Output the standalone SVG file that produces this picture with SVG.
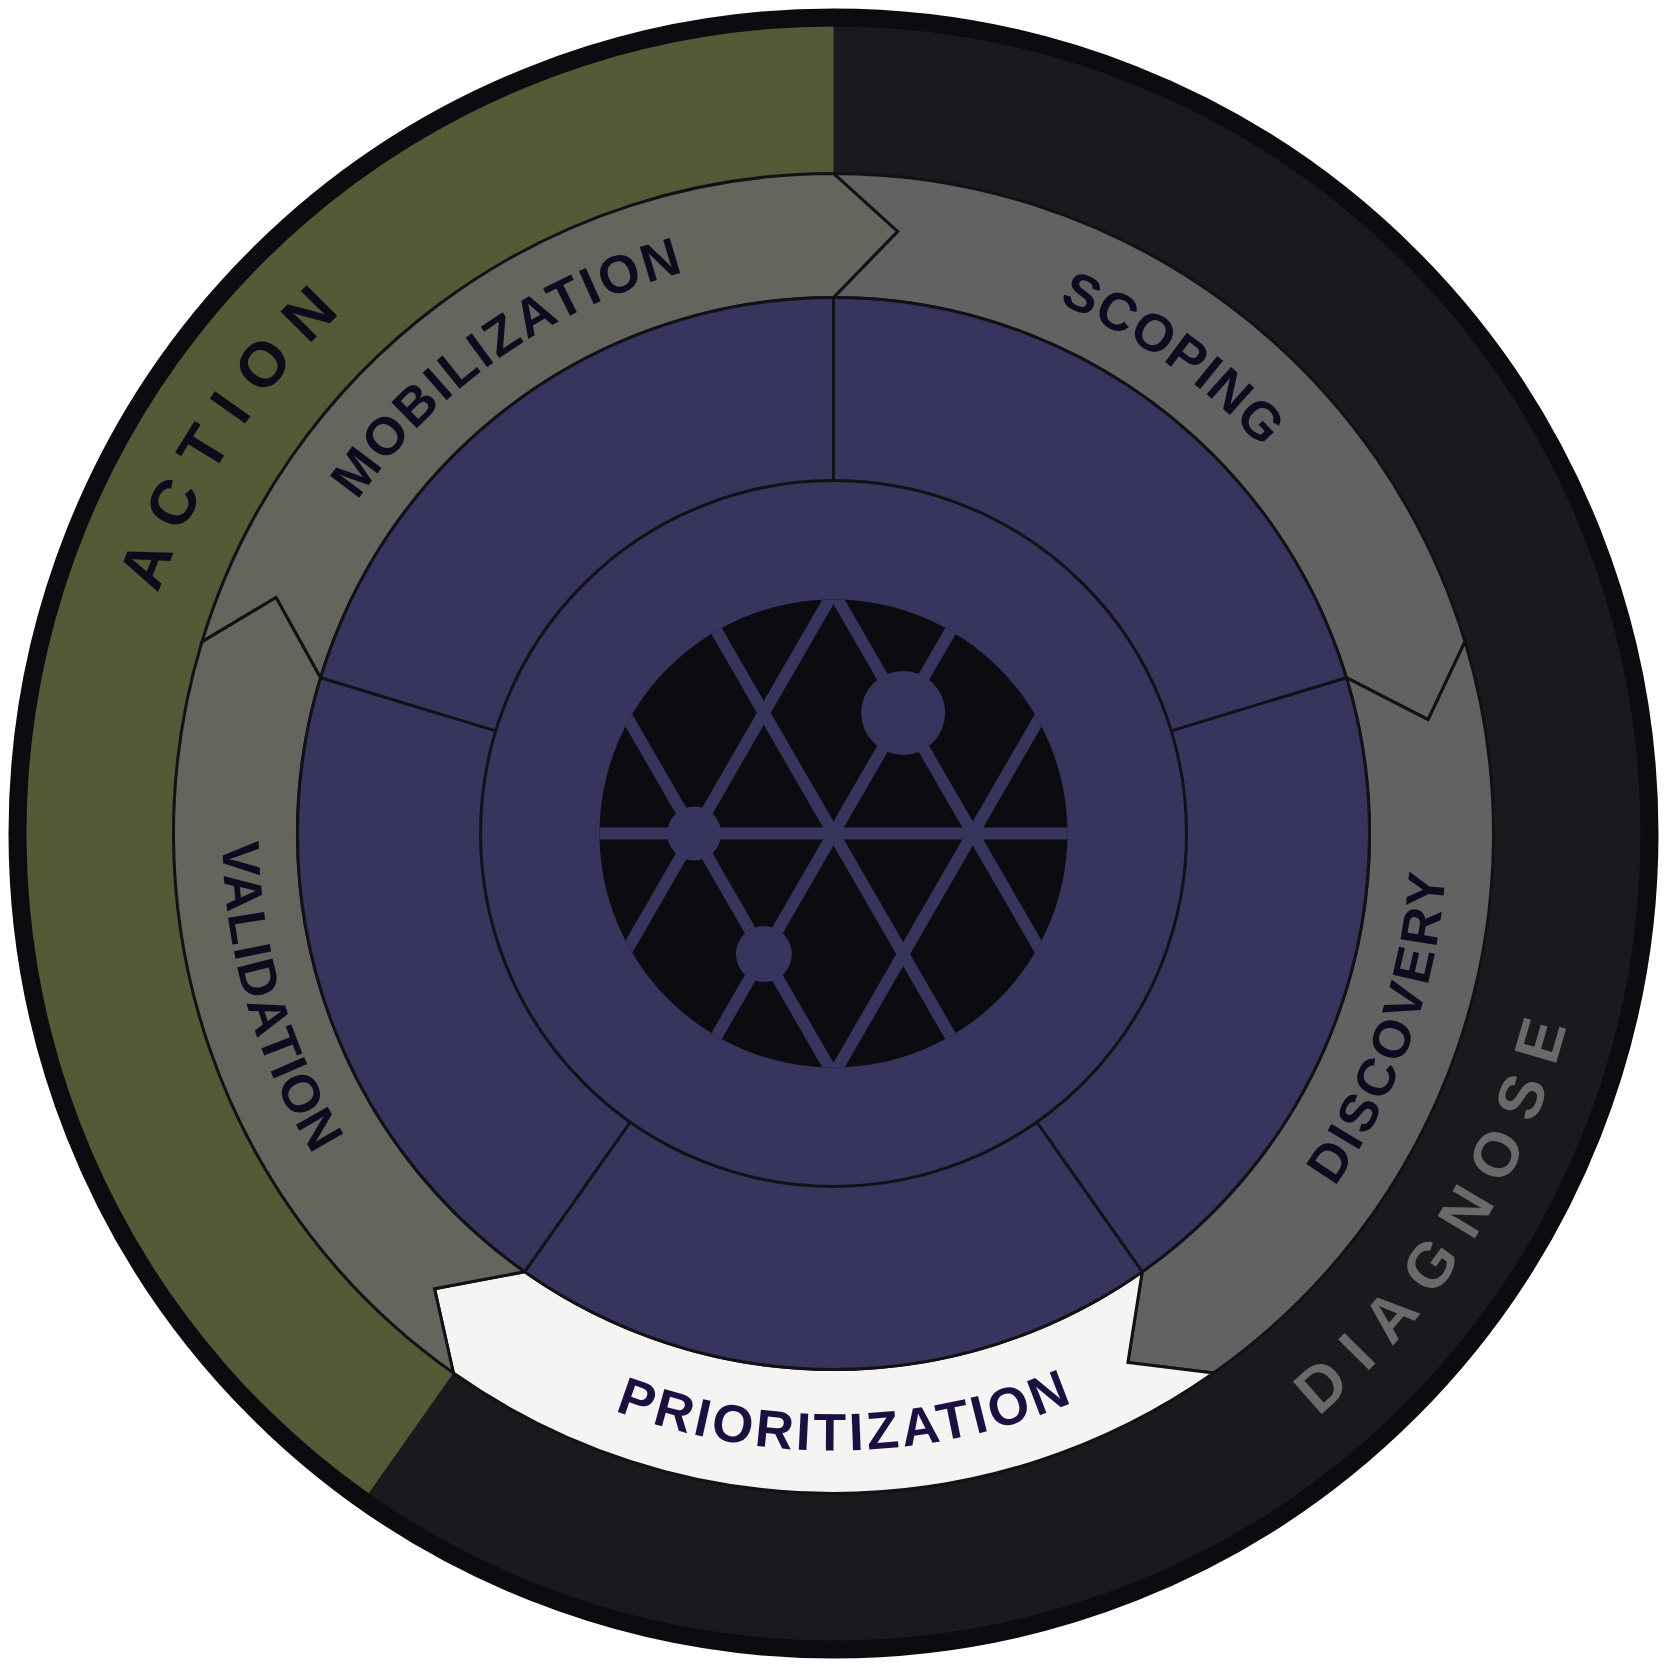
<svg xmlns="http://www.w3.org/2000/svg" width="1667" height="1667" viewBox="0 0 1667 1667">
<defs>
<style>
.seg{stroke:#111116;stroke-width:3;stroke-linejoin:miter}
.warm{fill:#65655e}
.cool{fill:#626262}
.light{fill:#f5f4f2}
.lbl{font-family:"Liberation Sans",Arial,sans-serif;font-weight:700;font-size:53px;fill:#0f0b1f}
.big{font-family:"Liberation Sans",Arial,sans-serif;font-weight:700;font-size:63px}
.lattice line{stroke:#37345e;stroke-width:12}
.div{stroke:#111116;stroke-width:3;fill:none}
</style>
<clipPath id="disc"><circle cx="833.5" cy="833.5" r="234"/></clipPath>
<path id="p-action" d="M 343.9 1357.3 A 717 717 0 0 1 1114.2 173.7"/>
<path id="p-diagnose" d="M 543.4 1533.8 A 758 758 0 0 0 1345.6 274.6"/>
<path id="p-mobilization" d="M 306.9 1079.0 A 581 581 0 0 1 1244.3 422.7"/>
<path id="p-scoping" d="M 429.8 422.6 A 576 576 0 0 1 1353.4 1081.5"/>
<path id="p-discovery" d="M 732.3 1438.1 A 613 613 0 0 0 1135.3 299.9"/>
<path id="p-prioritization" d="M 227.8 951.2 A 617 617 0 0 0 1442.9 930.0"/>
<path id="p-validation" d="M 563.3 285.5 A 611 611 0 0 0 900.0 1440.9"/>
</defs>
<rect width="1667" height="1667" fill="#ffffff"/>

<g id="outer-ring">
<circle cx="833.5" cy="833.5" r="816" fill="#1a191e" stroke="#0c0c10" stroke-width="18"/>
</g>
<g id="action">
<path d="M 833.5 833.5 L 368.7 1493.2 A 807 807 0 0 1 833.5 26.5 Z" fill="#525b35"/>
<text class="big" fill="#0d0a1a"><textPath href="#p-action" startOffset="50%" text-anchor="middle" textLength="338" lengthAdjust="spacing">ACTION</textPath></text>
</g>
<g id="diagnose">
<text class="big" fill="#6a6a6a"><textPath href="#p-diagnose" startOffset="50%" text-anchor="middle" textLength="470" lengthAdjust="spacing">DIAGNOSE</textPath></text>
</g>

<g id="scoping">
<path class="seg cool" d="M 833.5 173.5 A 660 660 0 0 1 1465.0 641.6 L 1428.1 719.7 L 1346.4 677.7 A 536 536 0 0 0 833.5 297.5 L 897.5 231.5 Z"/>
<text class="lbl"><textPath href="#p-scoping" startOffset="50%" text-anchor="middle" textLength="252" lengthAdjust="spacing">SCOPING</textPath></text>
</g>
<g id="discovery">
<path class="seg cool" d="M 1465.0 641.6 A 660 660 0 0 1 1213.6 1373.0 L 1127.9 1362.5 L 1142.2 1271.7 A 536 536 0 0 0 1346.4 677.7 L 1428.1 719.7 Z"/>
<text class="lbl"><textPath href="#p-discovery" startOffset="50%" text-anchor="middle" textLength="336" lengthAdjust="spacing">DISCOVERY</textPath></text>
</g>
<g id="prioritization">
<path class="seg light" d="M 1213.6 1373.0 A 660 660 0 0 1 453.4 1373.0 L 434.5 1288.7 L 524.8 1271.7 A 536 536 0 0 0 1142.2 1271.7 L 1127.9 1362.5 Z"/>
<text class="lbl" style="fill:#1b1040"><textPath href="#p-prioritization" startOffset="50%" text-anchor="middle" textLength="469" lengthAdjust="spacing">PRIORITIZATION</textPath></text>
</g>
<g id="validation">
<path class="seg warm" d="M 453.4 1373.0 A 660 660 0 0 1 202.0 641.6 L 276.1 597.3 L 320.6 677.7 A 536 536 0 0 0 524.8 1271.7 L 434.5 1288.7 Z"/>
<text class="lbl"><textPath href="#p-validation" startOffset="50%" text-anchor="middle" textLength="330" lengthAdjust="spacing">VALIDATION</textPath></text>
</g>
<g id="mobilization">
<path class="seg warm" d="M 202.0 641.6 A 660 660 0 0 1 833.5 173.5 L 897.5 231.5 L 833.5 297.5 A 536 536 0 0 0 320.6 677.7 L 276.1 597.3 Z"/>
<text class="lbl"><textPath href="#p-mobilization" startOffset="50%" text-anchor="middle" textLength="407" lengthAdjust="spacing">MOBILIZATION</textPath></text>
</g>

<g id="core">
<circle cx="833.5" cy="833.5" r="536" fill="#37345e" stroke="#111116" stroke-width="3"/>
<circle cx="833.5" cy="833.5" r="353" fill="none" stroke="#111116" stroke-width="3"/>
<circle cx="833.5" cy="833.5" r="234" fill="#0c0b10"/>
</g>
<g id="connectors">
<line class="div" x1="833.5" y1="297.5" x2="833.5" y2="480.5"/>
<line class="div" x1="1346.4" y1="677.7" x2="1171.3" y2="730.9"/>
<line class="div" x1="1142.2" y1="1271.7" x2="1036.8" y2="1122.1"/>
<line class="div" x1="524.8" y1="1271.7" x2="630.2" y2="1122.1"/>
<line class="div" x1="320.6" y1="677.7" x2="495.7" y2="730.9"/>
</g>
<g id="lattice" class="lattice" clip-path="url(#disc)">
<line x1="590" y1="833.5" x2="1077" y2="833.5"/>
<line x1="544.2" y1="1093.3" x2="844.2" y2="573.7"/>
<line x1="544.2" y1="573.7" x2="844.2" y2="1093.3"/>
<line x1="683.5" y1="1093.3" x2="983.5" y2="573.7"/>
<line x1="683.5" y1="573.7" x2="983.5" y2="1093.3"/>
<line x1="822.8" y1="1093.3" x2="1122.8" y2="573.7"/>
<line x1="822.8" y1="573.7" x2="1122.8" y2="1093.3"/>
</g>
<g id="nodes" fill="#37345e">
<circle id="node-a" cx="903.2" cy="712.9" r="42"/>
<circle id="node-b" cx="694.2" cy="833.5" r="27"/>
<circle id="node-c" cx="763.9" cy="954.1" r="28"/>
</g>
</svg>
